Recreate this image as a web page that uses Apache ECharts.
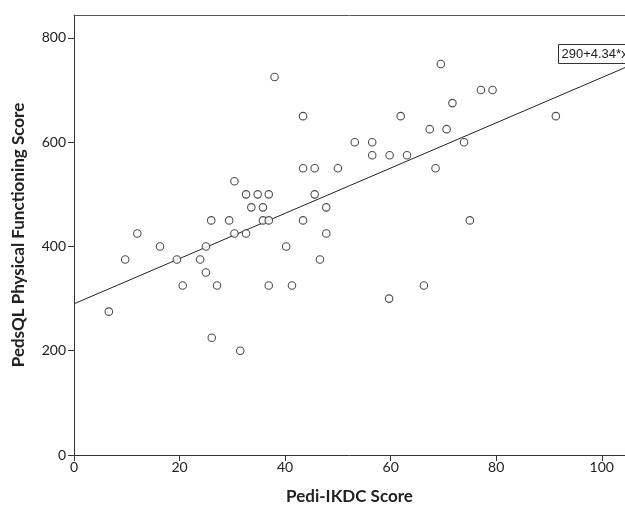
<!DOCTYPE html>
<html>
<head>
<meta charset="utf-8">
<script src="https://cdn.jsdelivr.net/npm/echarts@6/dist/echarts.min.js"></script>
<style>
html,body{margin:0;padding:0;background:#fff;}
#c{width:625px;height:510px;}
</style>
</head>
<body>
<div id="c"></div>
<script>
// Pedi-IKDC score (x) and PedsQL physical functioning score (y)
const xValues = [6.6,9.7,12,16.3,19.5,20.6,23.9,25,25,26,26.1,27.1,29.4,30.4,30.4,31.5,32.6,32.6,33.6,34.8,35.8,35.8,36.9,36.9,36.9,38,40.2,41.3,43.4,43.4,43.4,45.6,45.6,46.6,47.8,47.8,50,53.2,56.5,56.5,59.7,59.8,61.9,63.1,66.3,67.4,68.5,69.5,70.6,71.7,73.9,75,77.1,79.3,91.3];
const yValues = [275,375,425,400,375,325,375,400,350,450,225,325,450,525,425,200,500,425,475,500,475,450,500,450,325,725,400,325,650,550,450,550,500,375,475,425,550,600,600,575,300,575,650,575,325,625,550,750,625,675,600,450,700,700,650];
const fitIntercept = 290;
const fitSlope = 4.34;
const fitLabel = '290+4.34*x';
const xTicks = [0,20,40,60,80,100];
const yTicks = [0,200,400,600,800];
const xMin = 0, xMax = 104.4;
const yMin = 0, yMax = 844;

const points = xValues.map((x,i)=>[x,yValues[i]]);
const fitLine = [[xMin, fitIntercept + fitSlope*xMin],[xMax, fitIntercept + fitSlope*xMax]];

const chart = echarts.init(document.getElementById('c'));
const labelFont = {fontFamily:'Lato', fontSize:14, color:'#222'};
chart.setOption({
  animation:false,
  grid:{left:74, top:15, right:0, bottom:55},
  xAxis:[{
    type:'value', min:xMin, max:xMax,
    name:'Pedi-IKDC Score', nameLocation:'middle', nameGap:33,
    nameTextStyle:{fontFamily:'Lato', fontWeight:'bold', fontSize:17, color:'#222'},
    axisLine:{show:true, lineStyle:{color:'#333', width:1}},
    axisTick:{show:true, length:6, inside:false, customValues:xTicks, lineStyle:{color:'#333'}},
    axisLabel:Object.assign({customValues:xTicks, margin:5}, labelFont),
    splitLine:{show:false}
  },{
    type:'value', position:'top', min:xMin, max:xMax,
    axisLine:{show:true, onZero:false, lineStyle:{color:'#555', width:1}},
    axisTick:{show:false}, axisLabel:{show:false}, splitLine:{show:false}
  }],
  yAxis:{
    type:'value', min:yMin, max:yMax,
    name:'PedsQL Physical Functioning Score', nameLocation:'middle', nameGap:47, nameRotate:90,
    nameTextStyle:{fontFamily:'Lato', fontWeight:'bold', fontSize:17, color:'#222'},
    axisLine:{show:true, lineStyle:{color:'#333', width:1}},
    axisTick:{show:true, length:6, customValues:yTicks, lineStyle:{color:'#333'}},
    axisLabel:Object.assign({customValues:yTicks, margin:8}, labelFont),
    splitLine:{show:false}
  },
  series:[{
    type:'line', data:fitLine, symbol:'none', silent:true,
    lineStyle:{color:'#222', width:1}, z:2
  },{
    type:'scatter', data:points, symbol:'circle', symbolSize:7.5,
    itemStyle:{color:'#fff', borderColor:'#222', borderWidth:1.1}, z:3
  }],
  graphic:[{
    type:'group', left:558, top:44,
    children:[{
      type:'rect', shape:{x:0,y:0,width:80,height:19},
      style:{fill:'#fff', stroke:'#333', lineWidth:1}
    },{
      type:'text', x:3, y:3,
      style:{text:fitLabel, font:'13px "Liberation Sans", Arial', fill:'#222'}
    }]
  }]
});
</script>
</body>
</html>
